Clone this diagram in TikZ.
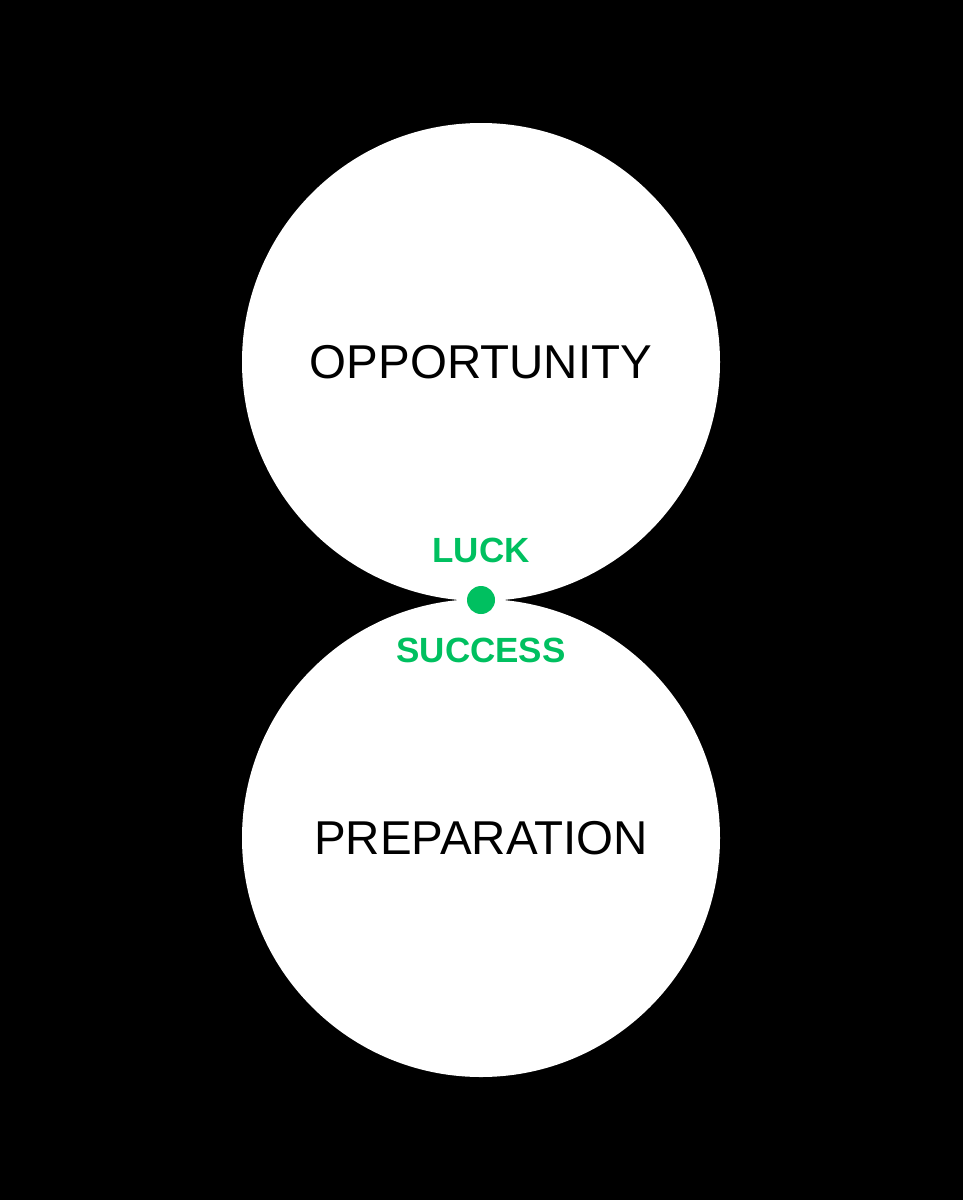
\documentclass[tikz,border=0pt]{standalone}
\usepackage{fontspec}
\setmainfont{Liberation Sans}
\definecolor{luckgreen}{HTML}{00C060}
\begin{document}
\begin{tikzpicture}[x=1pt,y=-1pt,
  circ/.style={circle,fill=white,minimum size=478pt,inner sep=0pt},
  big/.style={font=\fontsize{47.5}{48}\selectfont,text=black},
  small/.style={font=\bfseries\fontsize{35}{35}\selectfont,text=luckgreen}]
\fill[black] (0,0) rectangle (963,1200);
\useasboundingbox (0,0) rectangle (963,1200);
\node[circ] (top) at (481,362) {};
\node[circ] (bot) at (481,838) {};
\node[big] (opp) at (481,362) {OPPORTUNITY};
\node[big] (prep) at (481,838) {PREPARATION};
\node[circle,fill=luckgreen,minimum size=28pt,inner sep=0pt] (dot) at (481,600) {};
\node[small] (luck) at (481,550) {LUCK};
\node[small] (succ) at (481,650) {SUCCESS};
\end{tikzpicture}
\end{document}
